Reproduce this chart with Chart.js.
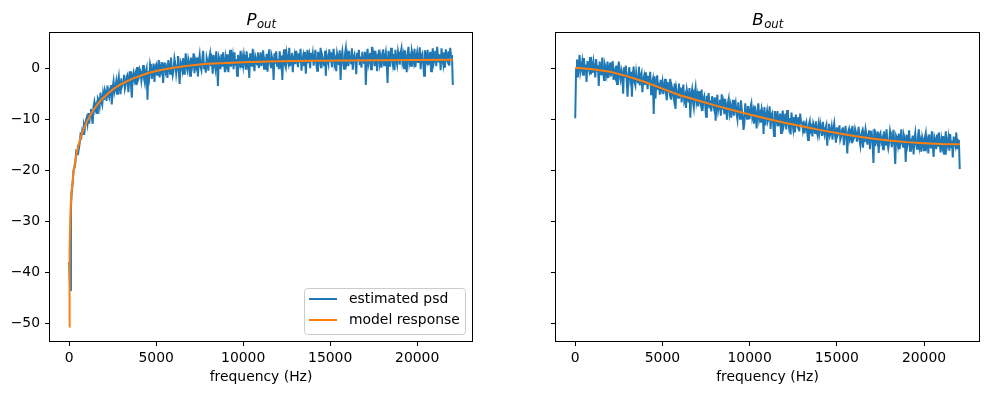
<!DOCTYPE html>
<html>
<head>
<meta charset="utf-8">
<script src="https://cdn.jsdelivr.net/npm/chart.js@4.4.0/dist/chart.umd.min.js"></script>
<style>
body { margin: 0; background: #fff; }
#wrap { position: relative; width: 988px; height: 394px; }
canvas { position: absolute; top: 0; }
</style>
</head>
<body>
<div id="wrap">
<canvas id="p-chart" width="494" height="394" style="left:0"></canvas>
<canvas id="b-chart" width="494" height="394" style="left:494px"></canvas>
</div>
<script>
// frequency grid of the estimated psd (Hz), 20 bins per kHz row
const freqs = [
    0, 50, 100, 150, 200, 250, 300, 350, 400, 450, 500, 550, 600, 650, 700, 750, 800, 850, 900, 950,
    1000, 1050, 1100, 1150, 1200, 1250, 1300, 1350, 1400, 1450, 1500, 1550, 1600, 1650, 1700, 1750, 1800, 1850, 1900, 1950,
    2000, 2050, 2100, 2150, 2200, 2250, 2300, 2350, 2400, 2450, 2500, 2550, 2600, 2650, 2700, 2750, 2800, 2850, 2900, 2950,
    3000, 3050, 3100, 3150, 3200, 3250, 3300, 3350, 3400, 3450, 3500, 3550, 3600, 3650, 3700, 3750, 3800, 3850, 3900, 3950,
    4000, 4050, 4100, 4150, 4200, 4250, 4300, 4350, 4400, 4450, 4500, 4550, 4600, 4650, 4700, 4750, 4800, 4850, 4900, 4950,
    5000, 5050, 5100, 5150, 5200, 5250, 5300, 5350, 5400, 5450, 5500, 5550, 5600, 5650, 5700, 5750, 5800, 5850, 5900, 5950,
    6000, 6050, 6100, 6150, 6200, 6250, 6300, 6350, 6400, 6450, 6500, 6550, 6600, 6650, 6700, 6750, 6800, 6850, 6900, 6950,
    7000, 7050, 7100, 7150, 7200, 7250, 7300, 7350, 7400, 7450, 7500, 7550, 7600, 7650, 7700, 7750, 7800, 7850, 7900, 7950,
    8000, 8050, 8100, 8150, 8200, 8250, 8300, 8350, 8400, 8450, 8500, 8550, 8600, 8650, 8700, 8750, 8800, 8850, 8900, 8950,
    9000, 9050, 9100, 9150, 9200, 9250, 9300, 9350, 9400, 9450, 9500, 9550, 9600, 9650, 9700, 9750, 9800, 9850, 9900, 9950,
    10000, 10050, 10100, 10150, 10200, 10250, 10300, 10350, 10400, 10450, 10500, 10550, 10600, 10650, 10700, 10750, 10800, 10850, 10900, 10950,
    11000, 11050, 11100, 11150, 11200, 11250, 11300, 11350, 11400, 11450, 11500, 11550, 11600, 11650, 11700, 11750, 11800, 11850, 11900, 11950,
    12000, 12050, 12100, 12150, 12200, 12250, 12300, 12350, 12400, 12450, 12500, 12550, 12600, 12650, 12700, 12750, 12800, 12850, 12900, 12950,
    13000, 13050, 13100, 13150, 13200, 13250, 13300, 13350, 13400, 13450, 13500, 13550, 13600, 13650, 13700, 13750, 13800, 13850, 13900, 13950,
    14000, 14050, 14100, 14150, 14200, 14250, 14300, 14350, 14400, 14450, 14500, 14550, 14600, 14650, 14700, 14750, 14800, 14850, 14900, 14950,
    15000, 15050, 15100, 15150, 15200, 15250, 15300, 15350, 15400, 15450, 15500, 15550, 15600, 15650, 15700, 15750, 15800, 15850, 15900, 15950,
    16000, 16050, 16100, 16150, 16200, 16250, 16300, 16350, 16400, 16450, 16500, 16550, 16600, 16650, 16700, 16750, 16800, 16850, 16900, 16950,
    17000, 17050, 17100, 17150, 17200, 17250, 17300, 17350, 17400, 17450, 17500, 17550, 17600, 17650, 17700, 17750, 17800, 17850, 17900, 17950,
    18000, 18050, 18100, 18150, 18200, 18250, 18300, 18350, 18400, 18450, 18500, 18550, 18600, 18650, 18700, 18750, 18800, 18850, 18900, 18950,
    19000, 19050, 19100, 19150, 19200, 19250, 19300, 19350, 19400, 19450, 19500, 19550, 19600, 19650, 19700, 19750, 19800, 19850, 19900, 19950,
    20000, 20050, 20100, 20150, 20200, 20250, 20300, 20350, 20400, 20450, 20500, 20550, 20600, 20650, 20700, 20750, 20800, 20850, 20900, 20950,
    21000, 21050, 21100, 21150, 21200, 21250, 21300, 21350, 21400, 21450, 21500, 21550, 21600, 21650, 21700, 21750, 21800, 21850, 21900, 21950,
    22000, 22050
];

// estimated psd of P_out (dB)
const pPsd = [
    -38.0, -43.5, -27.3, -24.1, -22.6, -20.0, -19.6, -18.6, -16.5, -16.9, -15.0, -15.9, -14.8, -13.1, -13.5, -12.2, -12.9, -11.2, -11.9, -10.4,
    -9.8, -10.9, -8.8, -10.9, -9.0, -8.0, -9.6, -10.9, -7.5, -6.6, -8.1, -7.3, -8.8, -5.9, -6.3, -7.4, -4.8, -6.5, -7.2, -5.0,
    -6.2, -4.3, -5.0, -6.4, -3.4, -5.1, -5.7, -4.0, -3.3, -7.1, -3.9, -2.6, -4.7, -3.9, -2.7, -5.0, -2.7, -1.6, -3.9, -5.1,
    -2.0, -3.4, -2.8, -1.3, -4.0, -3.2, -1.7, -1.3, -4.7, -2.3, -0.6, -3.1, -5.8, -1.5, -0.8, -2.3, -1.4, -3.3, 0.2, -2.4,
    -1.9, -0.2, -0.7, -2.5, -1.2, 0.6, -1.9, -2.9, -0.7, 0.0, -6.2, -0.6, -1.8, 0.8, -0.1, -2.1, -0.5, 0.9, -2.7, 0.3,
    0.7, -1.3, -0.2, 1.6, -1.8, 0.2, -0.5, 1.2, -2.9, 0.7, 1.1, -0.7, 0.0, -1.9, 1.6, 0.4, -1.1, 2.1, -0.2, -1.4,
    -0.3, 1.9, 0.9, -1.0, 0.5, 2.4, -0.7, -3.1, 1.3, 0.8, -0.3, 2.0, -1.1, 0.6, 2.9, 0.2, -0.5, 1.8, 1.1, -1.5,
    2.1, -0.1, 0.8, 2.9, -1.0, 1.4, 0.5, 2.1, -1.6, 1.3, 2.6, 0.3, -0.4, 1.7, 3.4, 0.0, 1.1, -0.9, 2.1, 1.3,
    -0.5, 2.0, 2.9, 0.4, 1.3, -1.1, 2.6, 1.1, 0.0, 3.3, 0.7, -3.5, 2.2, 1.6, -0.2, 2.7, 0.3, 3.1, 1.0, -0.8,
    2.0, 0.8, 2.7, -0.8, 1.6, 3.6, 0.3, 1.2, 2.4, -0.2, 3.1, 0.5, 1.8, -1.5, 2.6, 1.4, 0.7, 3.4, 0.1, 1.9,
    0.5, 2.6, 1.4, -0.3, 3.3, 1.0, 2.1, -1.9, 2.9, 1.6, 0.3, 3.8, 1.1, -0.6, 2.4, 1.8, 0.7, 3.1, 0.0, 1.5,
    3.1, 0.4, 1.8, 3.5, -0.1, 1.4, 0.7, 2.8, -0.7, 2.1, 3.7, 1.0, 0.2, 2.3, 1.6, -2.3, 2.9, 0.9, 3.3, 0.5,
    1.8, -0.2, 3.3, 1.2, 2.5, -2.3, 2.0, 3.7, 0.7, 0.1, 2.8, 1.6, 0.9, 4.0, 0.4, 2.3, 3.0, -0.8, 1.7, 2.6,
    0.8, 3.4, 2.1, 0.2, 2.9, 1.1, 3.8, -0.5, 1.6, 2.5, 0.6, 3.2, -1.1, 1.9, 3.6, 1.0, 2.3, 0.0, 3.0, 1.5,
    2.8, 0.5, 1.9, 3.6, 1.0, -0.5, 3.2, 2.1, 1.3, 4.0, 0.0, 2.4, 1.7, 0.6, 3.4, -1.5, 2.6, 1.8, 0.9, 3.7,
    1.2, 3.1, 0.2, 2.3, 3.8, 0.8, 1.6, -0.6, 2.9, 2.0, 0.6, 3.5, -2.3, 2.2, 3.3, 1.1, -0.1, 2.7, 3.9, 1.3,
    2.4, 0.4, 3.4, 1.8, 0.9, 3.9, -0.3, 2.1, 2.7, 1.3, -1.2, 3.0, 1.9, 3.6, 0.6, 2.3, 0.1, 3.2, 1.7, 1.0,
    3.2, -3.3, 2.1, 3.8, 0.8, 1.7, 3.0, -0.2, 4.2, 1.2, 2.5, 0.4, 3.4, 1.9, -0.6, 2.7, 3.6, 1.0, 2.2, 0.1,
    2.3, 3.7, 0.6, 2.0, 3.1, 1.1, -2.9, 3.4, 1.8, 0.3, 4.0, 2.2, 0.9, 2.8, -0.4, 3.6, 1.7, 0.7, 3.2, 2.1,
    0.7, 3.0, 3.9, 1.3, 2.4, 0.0, 3.5, 1.8, -0.8, 2.6, 4.2, 1.1, 2.1, 0.5, 3.3, 2.5, 1.4, 3.8, 0.2, 2.0,
    3.1, 1.2, 1.9, 4.1, -0.2, 2.5, 2.9, 0.9, -1.5, 3.5, 2.2, 1.4, 3.6, 0.6, 2.0, 3.2, -0.6, 2.4, 3.9, 1.0,
    1.8, 3.4, 0.4, 4.2, 2.2, 1.1, 2.7, -0.4, 3.9, 2.0, 0.8, 3.1, 0.1, 3.7, 1.7, 1.3, 3.3, 0.5, 4.0, 2.3,
    2.6, -3.3
];

// estimated psd of B_out (dB)
const bPsd = [
    -9.8, -0.2, 1.7, -1.8, 0.6, 2.6, -0.8, 0.1, 1.3, -1.3, 2.0, -0.6, 0.7, -2.7, 1.4, 0.2, -0.5, 2.2, -1.2, 0.6,
    -0.9, 1.2, -0.1, -1.8, 1.8, -0.5, 0.6, -3.5, 1.3, 0.0, -1.4, 2.1, -0.6, -2.3, 0.7, 0.0, -1.1, 1.3, -1.9, -0.4,
    1.1, -1.6, -0.3, 1.4, -2.3, -0.8, -1.6, 0.5, -3.1, -0.3, 1.3, -1.5, -2.3, -0.3, -1.0, -5.0, 0.2, -1.9, 0.5, -2.4,
    -5.6, -1.3, 0.2, -2.0, -0.7, -5.6, -1.3, 0.3, -2.7, -3.4, -0.8, -2.0, -2.8, 0.3, -3.4, -1.5, -0.9, -4.7, -2.3, -1.5,
    -3.3, -0.8, -2.1, -4.1, -1.5, -3.3, -0.7, -5.1, -3.0, -2.2, -9.0, -1.6, -6.0, -3.1, -1.4, -4.1, -2.8, -5.2, -2.3, -3.8,
    -2.7, -5.1, -3.7, -2.1, -4.8, -6.3, -2.7, -3.9, -4.7, -2.1, -6.2, -3.8, -4.6, -5.8, -3.0, -8.0, -3.9, -4.8, -5.8, -3.0,
    -5.6, -3.8, -6.7, -4.7, -3.2, -6.3, -5.5, -7.8, -4.3, -5.3, -6.7, -3.9, -9.7, -5.3, -4.2, -6.5, -7.7, -5.0, -3.8, -6.5,
    -5.4, -7.5, -4.5, -6.2, -7.1, -4.2, -8.4, -6.1, -5.5, -7.0, -9.5, -5.4, -6.5, -4.9, -7.9, -6.3, -8.5, -5.5, -7.0, -7.8,
    -5.7, -10.3, -6.9, -5.2, -8.3, -7.4, -6.2, -9.3, -5.1, -8.1, -6.9, -9.0, -6.0, -7.6, -10.1, -6.9, -6.0, -8.7, -7.5, -9.7,
    -7.5, -6.2, -9.3, -7.9, -6.9, -8.9, -10.0, -6.7, -8.4, -9.9, -6.3, -8.1, -9.4, -12.1, -10.8, -6.9, -8.8, -9.9, -7.4, -8.6,
    -10.0, -7.7, -6.9, -9.5, -8.5, -10.9, -7.4, -9.2, -11.8, -8.5, -6.9, -10.0, -9.1, -10.7, -8.0, -8.8, -12.9, -7.6, -11.2, -9.5,
    -8.4, -10.3, -9.7, -7.5, -11.9, -9.2, -8.8, -10.9, -13.3, -8.4, -9.7, -10.5, -8.4, -11.4, -10.1, -8.9, -12.7, -9.8, -8.3, -11.3,
    -10.5, -8.9, -12.0, -8.2, -10.2, -11.4, -9.8, -13.0, -8.7, -10.6, -11.9, -9.6, -12.6, -9.1, -11.1, -11.5, -9.6, -12.4, -8.9, -10.7,
    -10.6, -12.0, -10.3, -12.8, -11.2, -10.6, -12.5, -14.1, -11.0, -10.3, -12.2, -11.6, -13.4, -10.8, -11.4, -12.7, -10.4, -12.3, -13.2, -11.2,
    -12.6, -10.8, -11.8, -13.3, -10.5, -12.5, -13.2, -11.7, -11.1, -15.2, -12.1, -10.9, -13.2, -12.6, -11.5, -14.0, -11.8, -10.8, -13.2, -14.6,
    -11.6, -13.1, -12.6, -11.2, -14.0, -13.4, -12.0, -11.6, -15.1, -12.9, -11.3, -13.8, -16.7, -12.5, -11.9, -13.5, -12.7, -14.7, -11.3, -14.0,
    -13.6, -11.9, -12.6, -14.4, -13.2, -11.5, -14.1, -15.2, -13.0, -12.4, -15.6, -13.2, -14.5, -12.0, -13.0, -15.0, -13.5, -12.2, -15.9, -12.9,
    -12.6, -14.6, -18.6, -11.9, -15.3, -13.3, -14.1, -12.4, -16.6, -13.1, -12.7, -14.5, -13.9, -15.9, -12.4, -13.7, -15.2, -12.0, -14.5, -15.7,
    -14.6, -12.4, -13.5, -15.5, -14.0, -12.1, -15.2, -18.8, -13.3, -13.8, -15.0, -12.8, -15.9, -14.2, -12.0, -14.7, -15.4, -13.2, -13.9, -18.4,
    -13.0, -15.2, -14.3, -12.2, -16.2, -13.8, -14.7, -13.2, -16.9, -14.0, -12.7, -15.0, -15.8, -13.7, -12.0, -15.4, -14.4, -16.4, -13.5, -14.2,
    -16.1, -13.6, -12.7, -15.2, -14.3, -16.7, -13.0, -14.5, -15.7, -12.4, -15.0, -17.4, -13.5, -14.1, -15.9, -13.0, -15.4, -12.6, -14.7, -16.5,
    -14.0, -15.2, -13.3, -16.8, -14.4, -12.4, -15.7, -14.8, -13.6, -16.2, -12.9, -15.5, -14.2, -17.5, -13.4, -14.6, -15.3, -12.6, -15.9, -14.1,
    -14.3, -19.8
];

// fitted model responses
const pModelFreqs = [0, 25, 60, 125, 250, 375, 500, 625, 750, 875, 1000, 1125, 1250, 1375, 1500,
    1625, 1750, 1875, 2000, 2250, 2500, 2750, 3000, 3250, 3500, 3750, 4000, 4500, 5000, 5500,
    6000, 6500, 7000, 7500, 8000, 9000, 10000, 11000, 12000, 14000, 16000, 18000, 20000, 22050];
const pModel = [-50.7, -36.0, -29.5, -24.5, -20.3, -17.6, -15.6, -14.0, -12.7, -11.6, -10.6, -9.8, -9.0, -8.3, -7.7,
    -7.1, -6.6, -6.1, -5.7, -4.9, -4.2, -3.6, -3.1, -2.7, -2.3, -1.9, -1.6, -1.0, -0.55, -0.2,
    0.1, 0.35, 0.55, 0.7, 0.85, 1.0, 1.15, 1.25, 1.35, 1.45, 1.52, 1.57, 1.6, 1.63];

const bModelFreqs = [0, 1000, 2000, 3000, 4000, 5000, 6000, 7000, 8000, 9000, 10000, 11000,
    12000, 13000, 14000, 15000, 16000, 17000, 18000, 19000, 20000, 21000, 22050];
const bModel = [0.1, -0.2, -0.7, -1.6, -2.7, -4.0, -5.3, -6.3, -7.3, -8.2, -9.1, -9.9,
    -10.7, -11.4, -12.1, -12.7, -13.3, -13.8, -14.2, -14.5, -14.7, -14.85, -14.9];

const xTicks = [0, 5000, 10000, 15000, 20000];
const yTicks = [-50, -40, -30, -20, -10, 0];

const BLUE = '#1f77b4';
const ORANGE = '#ff7f0e';
const FONT = '"DejaVu Sans", sans-serif';

Chart.defaults.color = '#000';
Chart.defaults.font.family = FONT;
Chart.defaults.font.size = 13.9;

function points(xs, ys) {
    return xs.map((x, i) => ({ x: x, y: ys[i] }));
}

// frame, titles, x label and legend the matplotlib way
const decorations = {
    id: 'decorations',
    afterDraw(chart, args, opts) {
        const ctx = chart.ctx;
        const a = chart.chartArea;
        ctx.save();
        ctx.strokeStyle = '#000';
        ctx.lineWidth = 1;
        ctx.strokeRect(a.left - 0.5, a.top - 0.5, a.right - a.left + 1, a.bottom - a.top + 1);

        const cx = (a.left + a.right) / 2;
        const big = 'italic 16.7px ' + FONT;
        const small = 'italic 11.7px ' + FONT;
        ctx.fillStyle = '#000';
        ctx.textAlign = 'left';
        ctx.textBaseline = 'alphabetic';
        ctx.font = big;
        const w1 = ctx.measureText(opts.title).width;
        ctx.font = small;
        const w2 = ctx.measureText(opts.sub).width;
        const tx = cx - (w1 + w2) / 2;
        ctx.font = big;
        ctx.fillText(opts.title, tx, 25);
        ctx.font = small;
        ctx.fillText(opts.sub, tx + w1 + 0.5, 28.3);

        ctx.font = '13.9px ' + FONT;
        ctx.textAlign = 'center';
        ctx.textBaseline = 'middle';
        ctx.fillText(opts.xlabel, cx, 377);

        if (opts.legend) {
            const w = 161, h = 46;
            const right = a.right - 7, bottom = a.bottom - 7;
            const left = right - w, top = bottom - h;
            ctx.beginPath();
            ctx.roundRect(left + 0.5, top + 0.5, w, h, 3);
            ctx.fillStyle = 'rgba(255,255,255,0.8)';
            ctx.fill();
            ctx.strokeStyle = '#cccccc';
            ctx.stroke();
            const items = [chart.data.datasets[1], chart.data.datasets[0]];
            items.forEach((ds, i) => {
                const y = top + 11 + i * 21;
                ctx.strokeStyle = ds.borderColor;
                ctx.lineWidth = 2;
                ctx.beginPath();
                ctx.moveTo(left + 5, y);
                ctx.lineTo(left + 33, y);
                ctx.stroke();
                ctx.fillStyle = '#000';
                ctx.textAlign = 'left';
                ctx.fillText(ds.label, left + 45, y);
            });
        }
        ctx.restore();
    }
};

function makeChart(canvasId, psd, modelFreqs, model, opts) {
    const ctx = document.getElementById(canvasId).getContext('2d');
    return new Chart(ctx, {
        type: 'scatter',
        data: {
            datasets: [{
                label: 'model response',
                data: points(modelFreqs, model),
                borderColor: ORANGE,
                backgroundColor: ORANGE,
                borderWidth: 2,
                showLine: true,
                pointRadius: 0,
                order: 1
            }, {
                label: 'estimated psd',
                data: points(freqs, psd),
                borderColor: BLUE,
                backgroundColor: BLUE,
                borderWidth: 2,
                showLine: true,
                pointRadius: 0,
                order: 2
            }]
        },
        options: {
            responsive: false,
            animation: false,
            layout: { padding: { top: 33, right: opts.padRight, left: 0, bottom: 0 } },
            plugins: {
                legend: { display: false },
                tooltip: { enabled: false },
                decorations: opts.deco
            },
            scales: {
                x: {
                    type: 'linear',
                    min: -1102.5,
                    max: 23152.5,
                    afterBuildTicks: s => { s.ticks = xTicks.map(v => ({ value: v })); },
                    afterFit: s => { s.height = 53; },
                    ticks: { autoSkip: false, maxRotation: 0, padding: 4, callback: v => String(v) },
                    grid: { drawOnChartArea: false, drawTicks: true, tickLength: 5, tickColor: '#000', tickWidth: 1 },
                    border: { display: false }
                },
                y: {
                    min: -53.5,
                    max: 6.9,
                    afterBuildTicks: s => { s.ticks = yTicks.map(v => ({ value: v })); },
                    afterFit: s => { s.width = opts.yWidth; },
                    ticks: {
                        padding: 5,
                        callback: v => opts.yLabels ? String(v).replace('-', '\u2212') : ''
                    },
                    grid: { drawOnChartArea: false, drawTicks: true, tickLength: 5, tickColor: '#000', tickWidth: 1 },
                    border: { display: false }
                }
            }
        },
        plugins: [decorations]
    });
}

const pChart = makeChart('p-chart', pPsd, pModelFreqs, pModel, {
    padRight: 22, yWidth: 50, yLabels: true,
    deco: { title: 'P', sub: 'out', xlabel: 'frequency (Hz)', legend: true }
});
const bChart = makeChart('b-chart', bPsd, bModelFreqs, bModel, {
    padRight: 9, yWidth: 62, yLabels: false,
    deco: { title: 'B', sub: 'out', xlabel: 'frequency (Hz)', legend: false }
});
</script>
</body>
</html>
